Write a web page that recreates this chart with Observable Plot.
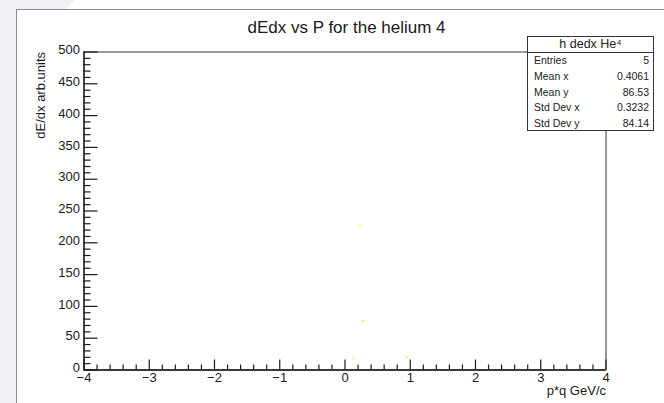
<!DOCTYPE html>
<html>
<head>
<meta charset="utf-8">
<script src="https://cdn.jsdelivr.net/npm/d3@7"></script>
<script src="https://cdn.jsdelivr.net/npm/@observablehq/plot@0.6"></script>
<style>
html, body { margin: 0; padding: 0; background: #fff; }
#wrap { position: relative; width: 664px; height: 403px; overflow: hidden; background: #eef0f3;
  font-family: "Liberation Sans", Arial, sans-serif; }
#page { position: absolute; left: 0; top: 0; width: 664px; height: 403px; background: #fff;
  clip-path: polygon(75px 0, 664px 0, 664px 403px, 16px 403px, 16px 10px, 65px 10px); }
#border { position: absolute; left: 16px; top: 9px; width: 660px; height: 400px;
  border-left: 1.5px solid #8c8c8c; border-top: 1.5px solid #8c8c8c; }
#chart { position: absolute; left: 0; top: 0; }
#stats { position: absolute; left: 527px; top: 36px; width: 127px; height: 95px;
  border: 1.2px solid #333; background: #fff; color: #222; font-size: 10.5px; box-sizing: border-box; }
#stats .head { height: 15px; line-height: 15px; text-align: center; font-size: 12.5px; border-bottom: 1.2px solid #333; }
#stats .row { display: flex; justify-content: space-between; padding: 0 4px 0 6px; height: 15.8px; line-height: 15.8px; }
</style>
</head>
<body>
<div id="wrap">
  <div id="page"></div>
  <div id="border"></div>
  <div id="chart"></div>
  <div id="stats"></div>
</div>
<script>
// ---- data ----
const title = "dEdx vs P for the helium 4";
const xLabel = "p*q GeV/c";
const yLabel = "dE/dx arb.units";
const pointX = [0.23, 0.28, 0.13, 0.95];
const pointY = [226, 77, 18, 20];
const xMajorTicks = [-4, -3, -2, -1, 0, 1, 2, 3, 4];
const yMajorTicks = [0, 50, 100, 150, 200, 250, 300, 350, 400, 450, 500];
const statsName = "h  dedx  He⁴";
const statsLabels = ["Entries", "Mean x", "Mean y", "Std Dev x", "Std Dev y"];
const statsValues = ["5", "0.4061", "86.53", "0.3232", "84.14"];

// ---- derived ----
const points = pointX.map((x, i) => ({x, y: pointY[i]}));
const xMinorTicks = [];
for (let i = 0; i < xMajorTicks.length - 1; i++) {
  const a = xMajorTicks[i], b = xMajorTicks[i + 1];
  for (let k = 1; k < 5; k++) xMinorTicks.push(a + (b - a) * k / 5);
}
const yMinorTicks = [];
for (let i = 0; i < yMajorTicks.length - 1; i++) {
  const a = yMajorTicks[i], b = yMajorTicks[i + 1];
  for (let k = 1; k < 5; k++) yMinorTicks.push(a + (b - a) * k / 5);
}

const W = 664, H = 403;
const mL = 83.5, mR = 58.5, mT = 51.5, mB = 33.5;
const fw = W - mL - mR, fh = H - mT - mB;
const ink = "#1a1a1a";

const plot = Plot.plot({
  width: W, height: H,
  marginLeft: mL, marginRight: mR, marginTop: mT, marginBottom: mB,
  style: {background: "transparent", fontFamily: "'Liberation Sans', Arial, sans-serif", color: ink},
  x: {domain: [-4, 4], axis: null},
  y: {domain: [0, 500], axis: null},
  marks: [
    Plot.frame({stroke: "#555", strokeWidth: 1.2}),
    Plot.dot(points, {x: "x", y: "y", r: 1, fill: "#f0e45a", stroke: null}),
    Plot.tickX(xMinorTicks, {x: d => d, insetTop: fh - 5, stroke: ink, strokeWidth: 1.2}),
    Plot.tickX(xMajorTicks, {x: d => d, insetTop: fh - 10, stroke: ink, strokeWidth: 1.2}),
    Plot.tickY(yMinorTicks, {y: d => d, insetRight: fw - 7, stroke: ink, strokeWidth: 1.2}),
    Plot.tickY(yMajorTicks, {y: d => d, insetRight: fw - 14, stroke: ink, strokeWidth: 1.2}),
    Plot.ruleX([-4], {stroke: ink, strokeWidth: 1.3}),
    Plot.ruleY([0], {stroke: ink, strokeWidth: 1.3}),
    Plot.axisX({ticks: xMajorTicks, tickSize: 0, tickPadding: 3, fontSize: 13, label: null, tickFormat: d3.format("")}),
    Plot.axisY({ticks: yMajorTicks, tickSize: 0, tickPadding: 4, fontSize: 13, label: null, dy: -2}),
    Plot.text([title], {frameAnchor: "top", dx: 1.5, dy: -31, fontSize: 17, fill: ink}),
    Plot.text([xLabel], {frameAnchor: "bottom-right", textAnchor: "end", dy: 25, fontSize: 13, fill: ink}),
    Plot.text([yLabel], {frameAnchor: "top-left", rotate: -90, textAnchor: "end", dx: -48, dy: 0, fontSize: 13, fill: ink})
  ]
});
document.getElementById("chart").appendChild(plot);

const stats = document.getElementById("stats");
const head = document.createElement("div");
head.className = "head";
head.textContent = statsName;
stats.appendChild(head);
statsLabels.forEach((l, i) => {
  const r = document.createElement("div");
  r.className = "row";
  const a = document.createElement("span"); a.textContent = l;
  const b = document.createElement("span"); b.textContent = statsValues[i];
  r.appendChild(a); r.appendChild(b);
  stats.appendChild(r);
});
</script>
</body>
</html>
